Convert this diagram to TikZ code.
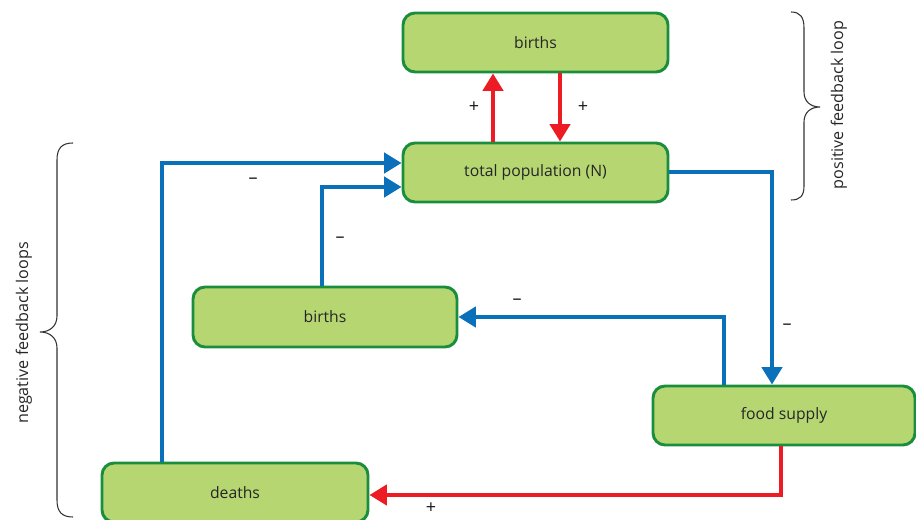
\documentclass[tikz,border=0pt]{standalone}
\usepackage{fontspec}
\setmainfont{Open Sans}
\usetikzlibrary{arrows.meta}
\definecolor{boxfill}{HTML}{B6D672}
\definecolor{boxline}{HTML}{1B8E3E}
\definecolor{fbred}{HTML}{ED1C24}
\definecolor{fbblue}{HTML}{0A70BA}
\definecolor{bracec}{HTML}{333333}
\tikzset{
  box/.style={draw=boxline, fill=boxfill, line width=2.2pt, rounded corners=9pt,
    inner sep=0pt, font=\fontsize{11.8}{14}\selectfont, text=black!85},
  redarrow/.style={draw=fbred, line width=3pt, -{Triangle[width=15pt,length=13pt]}},
  bluearrow/.style={draw=fbblue, line width=3pt, -{Triangle[width=15pt,length=13pt]}},
  sign/.style={font=\fontsize{13.5}{15}\selectfont, text=black!90, inner sep=0pt},
  bracestyle/.style={draw=bracec, line width=0.8pt},
  sidelabel/.style={font=\fontsize{12.1}{14}\selectfont, text=black!85, rotate=90}
}
\begin{document}
\begin{tikzpicture}[x=0.75pt, y=-0.75pt]
\useasboundingbox (0,0) rectangle (916,520);
% boxes
\node[box, minimum width=198.75pt, minimum height=44.25pt] (b1) at (535.5,42.5) {births};
\node[box, minimum width=198.75pt, minimum height=44.25pt] (tp) at (535.5,172.5) {total population (N)};
\node[box, minimum width=198pt, minimum height=45pt] (b2) at (325,317) {births};
\node[box, minimum width=196.5pt, minimum height=44.25pt] (fs) at (784,415.5) {food supply};
\node[box, minimum width=199.5pt, minimum height=44.25pt] (de) at (235,492.5) {deaths};
% helper coordinates
\coordinate (x493) at (493,0);
\coordinate (x560) at (560,0);
\coordinate (x772) at (772,0);
\coordinate (x724) at (724,0);
\coordinate (x322) at (322,0);
\coordinate (x162) at (162,0);
\coordinate (x781) at (781,0);
\coordinate (y187) at (0,187);
\coordinate (y163) at (0,163);
\coordinate (y495) at (0,495);
% red arrows (positive loop)
\draw[redarrow] (tp.north -| x493) -- (b1.south -| x493);
\draw[redarrow] (b1.south -| x560) -- (tp.north -| x560);
% blue arrows
\draw[bluearrow] (tp.east) -| (fs.north -| x772);
\draw[bluearrow] (fs.north -| x724) |- (b2.east);
\draw[bluearrow] (b2.north -| x322) |- (tp.west |- y187);
\draw[bluearrow] (de.north -| x162) |- (tp.west |- y163);
% red arrow food -> deaths
\draw[redarrow] (fs.south -| x781) |- (de.east |- y495);
% signs
\node[sign] (s1) at (474,107) {+};
\node[sign] (s2) at (583,107) {+};
\node[sign] (s3) at (253,181) {--};
\node[sign] (s4) at (340,240) {--};
\node[sign] (s5) at (517,302) {--};
\node[sign] (s6) at (787,327) {--};
\node[sign] (s7) at (431,508) {+};
% braces
\draw[bracestyle] (791,12) .. controls (800,12) and (804,17) .. (804,28) -- (804,92)
  .. controls (804,101) and (810,107) .. (820,107)
  .. controls (810,107) and (804,113) .. (804,122) -- (804,186)
  .. controls (804,196) and (800,200) .. (791,200);
\draw[bracestyle] (73,143) .. controls (62,143) and (57,148) .. (57,160) -- (57,316)
  .. controls (57,326) and (50,332) .. (40,332)
  .. controls (50,332) and (57,338) .. (57,348) -- (57,500)
  .. controls (57,512) and (62,517) .. (73,517);
\node[sidelabel] (pl) at (839,105) {positive feedback loop};
\node[sidelabel] (nl) at (24,333) {negative feedback loops};
\end{tikzpicture}
\end{document}
